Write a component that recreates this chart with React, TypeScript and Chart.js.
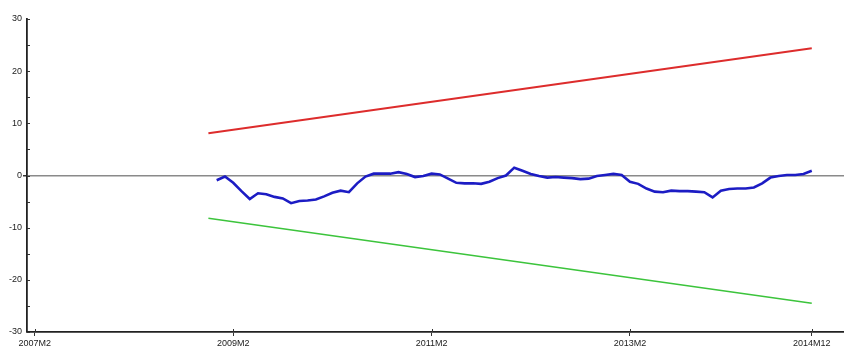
import React, { useEffect, useRef } from "react";
import { Chart, registerables } from "chart.js";

Chart.register(...registerables);

// Monthly sample runs from 2007M2 to 2014M12 (index 0 .. 94)
const START_YEAR = 2007;
const START_MONTH = 2;
const LAST_INDEX = 94;

// Labelled positions on the date axis
const dateTicks = [0, 24, 48, 72, 94];

// Recursive-residual CUSUM, one value per month from 2008M12 (index 22)
const cusumStart = 22;
const cusum = [
  -0.9, -0.2, -1.4, -3.0, -4.5, -3.4, -3.6, -4.1, -4.4, -5.3,
  -4.9, -4.8, -4.6, -4.0, -3.3, -2.9, -3.2, -1.5, -0.2, 0.35,
  0.35, 0.35, 0.65, 0.3, -0.3, -0.1, 0.35, 0.2, -0.6, -1.4,
  -1.5, -1.5, -1.6, -1.2, -0.5, 0.0, 1.5, 0.9, 0.3, -0.1,
  -0.4, -0.3, -0.4, -0.5, -0.7, -0.6, -0.1, 0.1, 0.3, 0.1,
  -1.2, -1.6, -2.5, -3.1, -3.2, -2.9, -3.0, -3.0, -3.1, -3.2,
  -4.2, -2.9, -2.6, -2.5, -2.5, -2.3, -1.5, -0.4, -0.1, 0.1,
  0.1, 0.3, 0.9,
];

// 5% significance bands: endpoints at 2008M11 and 2014M12
const bandIndex = [21, 94];
const upperBand = [8.1, 24.4];
const lowerBand = [-8.2, -24.5];

function monthLabel(i: number): string {
  const m0 = START_MONTH - 1 + i;
  const y = START_YEAR + Math.floor(m0 / 12);
  const m = (m0 % 12) + 1;
  return `${y}M${m}`;
}

const axisFont = { family: "'Liberation Sans', Arial, sans-serif", size: 9 };

// Short inward tick marks so each tick crosses its axis line
const crossTicks = {
  id: "crossTicks",
  afterDraw(chart: any) {
    const { ctx, chartArea, scales } = chart;
    ctx.save();
    ctx.strokeStyle = "#333";
    ctx.lineWidth = 1;
    ctx.beginPath();
    scales.y.ticks.forEach((t: any) => {
      const py = Math.round(scales.y.getPixelForValue(t.value)) + 0.5;
      ctx.moveTo(chartArea.left, py);
      ctx.lineTo(chartArea.left + 3, py);
    });
    scales.x.ticks.forEach((t: any) => {
      const px = Math.round(scales.x.getPixelForValue(t.value)) + 0.5;
      ctx.moveTo(px, chartArea.bottom);
      ctx.lineTo(px, chartArea.bottom - 3);
    });
    ctx.stroke();
    ctx.restore();
  },
};

export default function App() {
  const ref = useRef<HTMLCanvasElement>(null);

  useEffect(() => {
    document.body.style.margin = "0";
    const canvas = ref.current;
    if (!canvas) return;

    const cusumPts = cusum.map((v, k) => ({ x: cusumStart + k, y: v }));
    const upperPts = bandIndex.map((x, k) => ({ x, y: upperBand[k] }));
    const lowerPts = bandIndex.map((x, k) => ({ x, y: lowerBand[k] }));

    const chart = new Chart(canvas, {
      type: "line",
      data: {
        datasets: [
          {
            label: "CUSUM",
            data: cusumPts,
            borderColor: "#1c1cc4",
            borderWidth: 2.6,
            pointRadius: 0,
            tension: 0,
          },
          {
            label: "5% Significance",
            data: upperPts,
            borderColor: "#dd2c2c",
            borderWidth: 2,
            pointRadius: 0,
          },
          {
            label: "5% Significance (lower)",
            data: lowerPts,
            borderColor: "#3cc43c",
            borderWidth: 1.5,
            pointRadius: 0,
          },
        ],
      },
      options: {
        animation: false,
        responsive: false,
        maintainAspectRatio: false,
        layout: { padding: { top: 19, right: 0, left: 0, bottom: 0 } },
        plugins: { legend: { display: false }, tooltip: { enabled: false } },
        scales: {
          x: {
            type: "linear",
            min: -0.95,
            max: LAST_INDEX + 3.9,
            afterBuildTicks: (scale: any) => {
              scale.ticks = dateTicks.map((v) => ({ value: v }));
            },
            afterFit: (scale: any) => {
              scale.height = 17;
            },
            ticks: {
              autoSkip: false,
              maxRotation: 0,
              padding: 2,
              color: "#222",
              font: axisFont,
              callback: (v: any) => monthLabel(Number(v)),
            },
            grid: {
              drawOnChartArea: false,
              tickLength: 4,
              tickColor: "#333",
            },
            border: { color: "#222", width: 1.8 },
          },
          y: {
            min: -30,
            max: 30,
            afterFit: (scale: any) => {
              scale.width = 27;
            },
            ticks: {
              stepSize: 5,
              padding: 1,
              color: "#222",
              font: axisFont,
              callback: (v: any) => (Number(v) % 10 === 0 ? String(v) : ""),
            },
            grid: {
              color: (c: any) => (c.tick && c.tick.value === 0 ? "#8a8a8a" : "rgba(0,0,0,0)"),
              lineWidth: (c: any) => (c.tick && c.tick.value === 0 ? 1.5 : 0),
              tickLength: 4,
              tickColor: "#333",
            },
            border: { color: "#222", width: 1.8 },
          },
        },
      },
      plugins: [crossTicks],
    });

    return () => chart.destroy();
  }, []);

  return (
    <div style={{ width: 844, height: 349, background: "#fff" }}>
      <canvas ref={ref} width={844} height={349} style={{ display: "block" }} />
    </div>
  );
}
